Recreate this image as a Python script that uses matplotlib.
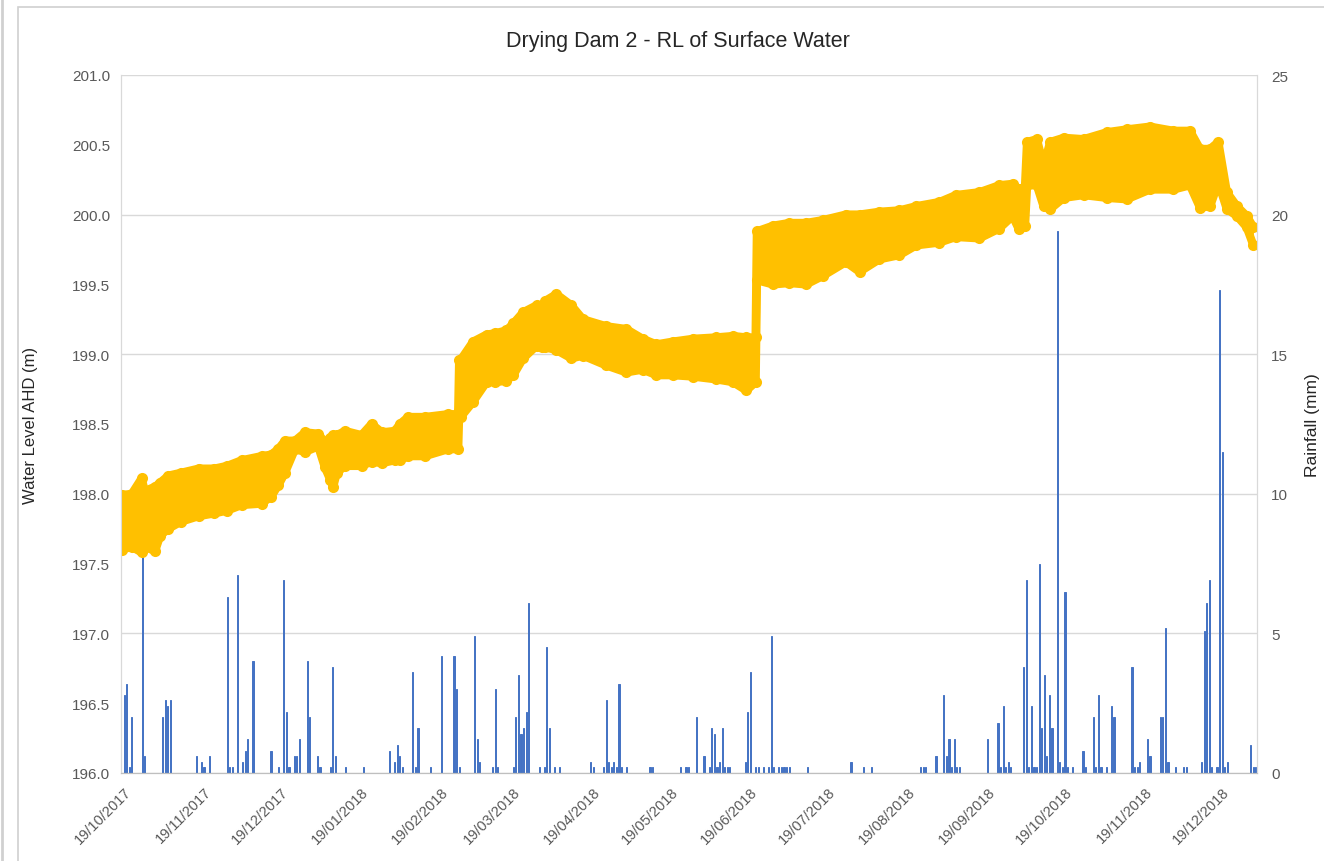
import numpy as np
import pandas as pd
import matplotlib
matplotlib.use("Agg")
import matplotlib.pyplot as plt
from matplotlib.patches import Rectangle
from matplotlib.lines import Line2D

plt.rcParams['font.family'] = ['Liberation Sans', 'DejaVu Sans']

START = pd.Timestamp("2017-10-19")

# ---- Water level envelope (days since 19/10/2017, lower / upper RL in m AHD)
level_day = [-1.0, 3, 6.8, 8, 12, 14, 17.2, 22, 28.9, 35, 40, 45.6, 53.4, 57, 59.8,
             62.4, 66.3, 70.2, 75.3, 77.9, 80, 81.1, 82.5, 85.7, 92.1, 96, 100, 105,
             107, 110.2, 116.7, 125.7, 129.6, 130.0, 130.6, 135.4, 140.6, 144, 148.3,
             151, 154.8, 160, 162.0, 162.5, 163.2, 167.7, 173.5, 178, 187, 194.8,
             201.2, 206.5, 212.9, 220.7, 229.7, 236.2, 241.4, 245.0, 245.5, 251.7,
             258.1, 264.6, 271, 280, 285.3, 293, 300.8, 307.3, 316.3, 322.7, 331.8,
             339.5, 344.7, 347, 349.5, 350.3, 354.1, 356.7, 359.3, 364.5, 372.2,
             381.3, 389, 398, 407.1, 413.5, 417.4, 421.3, 424.5, 427.8, 431.7,
             435.5, 438.1]
level_low = [197.60, 197.62, 197.58, 197.62, 197.59, 197.70, 197.75, 197.80, 197.84,
             197.86, 197.88, 197.92, 197.93, 197.98, 198.06, 198.15, 198.32, 198.30,
             198.34, 198.19, 198.10, 198.05, 198.15, 198.20, 198.20, 198.23, 198.22,
             198.24, 198.24, 198.27, 198.27, 198.32, 198.32, 198.59, 198.55, 198.66,
             198.80, 198.80, 198.81, 198.85, 198.97, 199.06, 199.05, 199.15, 199.05,
             199.03, 198.97, 198.99, 198.92, 198.87, 198.89, 198.85, 198.85, 198.84,
             198.82, 198.80, 198.74, 198.80, 199.53, 199.50, 199.51, 199.50, 199.56,
             199.66, 199.59, 199.68, 199.71, 199.78, 199.80, 199.84, 199.83, 199.90,
             199.99, 199.90, 199.92, 200.21, 200.21, 200.06, 200.04, 200.12, 200.14,
             200.12, 200.11, 200.18, 200.18, 200.21, 200.05, 200.06, 200.23, 200.04,
             199.99, 199.91, 199.78]
level_high = [197.99, 198.00, 198.11, 198.02, 198.05, 198.08, 198.13, 198.15, 198.18,
              198.18, 198.20, 198.24, 198.27, 198.28, 198.32, 198.38, 198.38, 198.44,
              198.43, 198.37, 198.40, 198.42, 198.42, 198.45, 198.42, 198.50, 198.44,
              198.45, 198.50, 198.55, 198.55, 198.57, 198.57, 198.96, 198.96, 199.09,
              199.14, 199.15, 199.17, 199.22, 199.30, 199.35, 199.33, 199.30, 199.38,
              199.43, 199.35, 199.25, 199.20, 199.18, 199.11, 199.07, 199.09, 199.11,
              199.12, 199.13, 199.12, 199.12, 199.88, 199.92, 199.94, 199.94, 199.96,
              200.00, 200.00, 200.02, 200.03, 200.06, 200.09, 200.14, 200.16, 200.21,
              200.22, 200.18, 200.20, 200.52, 200.54, 200.35, 200.52, 200.55, 200.54,
              200.59, 200.61, 200.63, 200.60, 200.60, 200.47, 200.47, 200.52, 200.16,
              200.06, 199.99, 199.91]

# ---- Daily rainfall (days since 19/10/2017, mm)
rain_day = [0, 1, 2, 3, 7, 8, 15, 16, 17, 18, 28, 30, 31, 33, 40, 41, 42, 44, 46, 47,
            48, 50, 57, 60, 62, 63, 64, 66, 67, 68, 71, 72, 75, 76, 80, 81, 82, 86, 93,
            103, 105, 106, 107, 108, 112, 113, 114, 119, 123, 128, 129, 130, 136, 137,
            138, 143, 144, 145, 151, 152, 153, 154, 155, 156, 157, 161, 163, 164, 165,
            167, 169, 181, 182, 186, 187, 188, 189, 190, 191, 192, 193, 195, 204, 205,
            216, 218, 219, 222, 225, 227, 228, 229, 230, 231, 232, 233, 234, 235, 241,
            242, 243, 245, 246, 248, 250, 251, 252, 254, 255, 256, 257, 258, 265, 282,
            287, 290, 309, 310, 311, 315, 318, 319, 320, 321, 322, 323, 324, 335, 339,
            340, 341, 342, 343, 344, 349, 350, 351, 352, 353, 354, 355, 356, 357, 358,
            359, 360, 362, 363, 364, 365, 366, 368, 372, 373, 376, 377, 378, 379, 381,
            383, 384, 391, 392, 393, 394, 397, 398, 402, 403, 404, 405, 408, 411, 412,
            418, 419, 420, 421, 422, 424, 425, 426, 427, 428, 437, 438, 439]
rain_mm = [2.8, 3.2, 0.2, 2.0, 9.0, 0.6, 2.0, 2.6, 2.4, 2.6, 0.6, 0.4, 0.2, 0.6, 6.3,
           0.2, 0.2, 7.1, 0.4, 0.8, 1.2, 4.0, 0.8, 0.2, 6.9, 2.2, 0.2, 0.6, 0.6, 1.2,
           4.0, 2.0, 0.6, 0.2, 0.2, 3.8, 0.6, 0.2, 0.2, 0.8, 0.4, 1.0, 0.6, 0.2, 3.6,
           0.2, 1.6, 0.2, 4.2, 4.2, 3.0, 0.2, 4.9, 1.2, 0.4, 0.2, 3.0, 0.2, 0.2, 2.0,
           3.5, 1.4, 1.6, 2.2, 6.1, 0.2, 0.2, 4.5, 1.6, 0.2, 0.2, 0.4, 0.2, 0.2, 2.6,
           0.4, 0.2, 0.4, 0.2, 3.2, 0.2, 0.2, 0.2, 0.2, 0.2, 0.2, 0.2, 2.0, 0.6, 0.2,
           1.6, 1.4, 0.2, 0.4, 1.6, 0.2, 0.2, 0.2, 0.4, 2.2, 3.6, 0.2, 0.2, 0.2, 0.2,
           4.9, 0.2, 0.2, 0.2, 0.2, 0.2, 0.2, 0.2, 0.4, 0.2, 0.2, 0.2, 0.2, 0.2, 0.6,
           2.8, 0.6, 1.2, 0.2, 1.2, 0.2, 0.2, 1.2, 1.8, 0.2, 2.4, 0.2, 0.4, 0.2, 3.8,
           6.9, 0.2, 2.4, 0.2, 0.2, 7.5, 1.6, 3.5, 0.6, 2.8, 1.6, 19.4, 0.4, 0.2, 6.5,
           0.2, 0.2, 0.8, 0.2, 2.0, 0.2, 2.8, 0.2, 0.2, 2.4, 2.0, 3.8, 0.2, 0.2, 0.4,
           1.2, 0.6, 2.0, 2.0, 5.2, 0.4, 0.2, 0.2, 0.2, 0.4, 5.1, 6.1, 6.9, 0.2, 0.2,
           17.3, 11.5, 0.2, 0.4, 1.0, 0.2, 0.2]

tick_labels = ["19/10/2017", "19/11/2017", "19/12/2017", "19/01/2018", "19/02/2018",
               "19/03/2018", "19/04/2018", "19/05/2018", "19/06/2018", "19/07/2018",
               "19/08/2018", "19/09/2018", "19/10/2018", "19/11/2018", "19/12/2018"]

TITLE = "Drying Dam 2 - RL of Surface Water"
ORANGE = "#FFC000"
BLUE = "#4472C4"
TXT = "#595959"
GRID = "#D9D9D9"

lvl_x = START + pd.to_timedelta(level_day, unit="D")
rain_x = START + pd.to_timedelta(rain_day, unit="D")
tick_x = pd.to_datetime(tick_labels, dayfirst=True)

W, H = 1324, 862
fig = plt.figure(figsize=(W / 100, H / 100), dpi=100)
fig.patch.set_facecolor("white")

# chart-area border
fig.add_artist(Rectangle((18 / W, -0.01), 1.02, 1 - 8 / H + 0.01, transform=fig.transFigure,
                         fill=False, edgecolor="#D0D0D0", linewidth=1.2))
fig.add_artist(Line2D([1.5 / W, 1.5 / W], [0, 1], transform=fig.transFigure,
                      color="#D0D0D0", linewidth=2))

ax_l = fig.add_axes([121 / W, (H - 774) / H, (1257 - 121) / W, (774 - 76) / H])
ax_r = ax_l.twinx()
# rainfall drawn beneath the water level
ax_r.set_zorder(ax_l.get_zorder() - 1)
ax_l.patch.set_visible(False)
ax_r.patch.set_visible(True)
ax_r.patch.set_facecolor("white")

ax_r.bar(rain_x, rain_mm, width=0.45, color=BLUE, edgecolor=BLUE, linewidth=0.7,
         align="center")
ax_r.set_ylim(0, 25)
ax_r.set_yticks(np.arange(0, 26, 5))
ax_r.grid(axis="y", color=GRID, linewidth=1.0)
ax_r.set_axisbelow(True)

ax_l.fill_between(lvl_x, level_low, level_high, color=ORANGE, linewidth=0)
for edge in (level_low, level_high):
    ax_l.plot(lvl_x, edge, color=ORANGE, linewidth=6, solid_joinstyle="round",
              solid_capstyle="round", marker="o", markersize=8, markeredgewidth=0)
ax_l.set_ylim(196.0, 201.0)
ax_l.set_yticks(np.arange(196.0, 201.01, 0.5))
ax_l.yaxis.set_major_formatter(matplotlib.ticker.FormatStrFormatter("%.1f"))

xmin = START - pd.Timedelta(days=1.2)
xmax = START + pd.Timedelta(days=439.5)
ax_l.set_xlim(xmin, xmax)
ax_l.set_xticks(tick_x)
ax_l.set_xticklabels(tick_labels, rotation=45, ha="right", va="top",
                     rotation_mode="anchor", fontsize=10.5, color=TXT)

for ax in (ax_l, ax_r):
    ax.spines["top"].set_visible(False)
    ax.spines["left"].set_color(GRID)
    ax.spines["right"].set_color(GRID)
    ax.spines["bottom"].set_color("#BFBFBF")
    ax.tick_params(axis="both", length=0, labelsize=11, labelcolor=TXT)
ax_l.tick_params(axis="x", pad=8, labelsize=10.5)
ax_l.tick_params(axis="y", pad=8)
ax_r.tick_params(axis="y", pad=10)

ax_l.set_ylabel("Water Level AHD (m)", fontsize=12, color="#262626", labelpad=24)
ax_r.set_ylabel("Rainfall (mm)", fontsize=12.5, color="#262626", labelpad=12)

fig.text(678 / W, 1 - 42 / H, TITLE, ha="center", va="center", fontsize=15.5, color="#262626")

fig.savefig("out.png", dpi=100, facecolor="white")
